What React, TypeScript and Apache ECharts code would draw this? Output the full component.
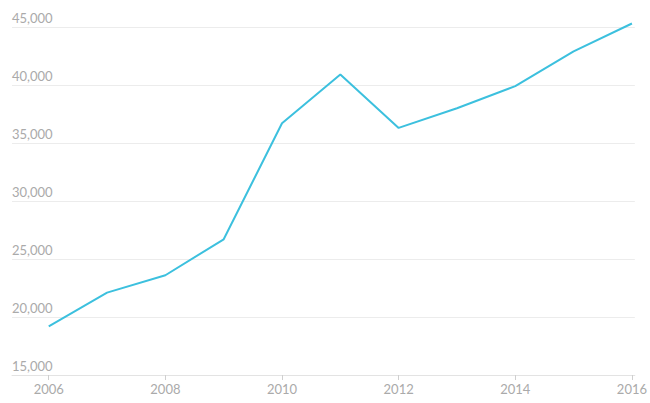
import React, { useEffect, useRef } from "react";
import * as echarts from "echarts";

const years = [2006, 2007, 2008, 2009, 2010, 2011, 2012, 2013, 2014, 2015, 2016];
const values = [19200, 22100, 23600, 26700, 36700, 40900, 36300, 38000, 39900, 42900, 45300];
const xTickValues = [2006, 2008, 2010, 2012, 2014, 2016];

export default function App() {
  const ref = useRef<HTMLDivElement>(null);
  useEffect(() => {
    if (!ref.current) return;
    const chart = echarts.init(ref.current, null, { renderer: "svg" });
    chart.setOption({
      animation: false,
      grid: { left: 12, right: 10, top: 27, bottom: 28, containLabel: false },
      xAxis: {
        type: "value",
        min: 2005.37,
        max: 2016.05,
        splitLine: { show: false },
        axisLine: { show: true, lineStyle: { color: "#e3e3e3", width: 1 } },
        axisTick: {
          show: true,
          length: 5,
          customValues: xTickValues,
          lineStyle: { color: "#cfcfcf" },
        },
        axisLabel: {
          customValues: xTickValues,
          color: "#aaaaaa",
          fontFamily: "Lato",
          fontSize: 13,
          margin: 7,
          formatter: (v: number) => String(v),
        },
      },
      yAxis: {
        type: "value",
        min: 15000,
        max: 45000,
        interval: 5000,
        axisLine: { show: false },
        axisTick: { show: false },
        splitLine: { show: true, lineStyle: { color: "#ececec", width: 1 } },
        axisLabel: {
          inside: true,
          margin: 0,
          align: "left",
          verticalAlign: "bottom",
          padding: [0, 0, 3, 0],
          color: "#aaaaaa",
          fontFamily: "Lato",
          fontSize: 13,
          formatter: (v: number) => v.toLocaleString("en-US"),
        },
      },
      series: [
        {
          type: "line",
          clip: false,
          data: years.map((y, i) => [y, values[i]]),
          showSymbol: false,
          symbol: "none",
          lineStyle: { color: "#3cc0de", width: 2 },
        },
      ],
    });
    return () => chart.dispose();
  }, []);
  return <div ref={ref} style={{ width: 650, height: 403, position: "absolute", left: 0, top: 0 }} />;
}
